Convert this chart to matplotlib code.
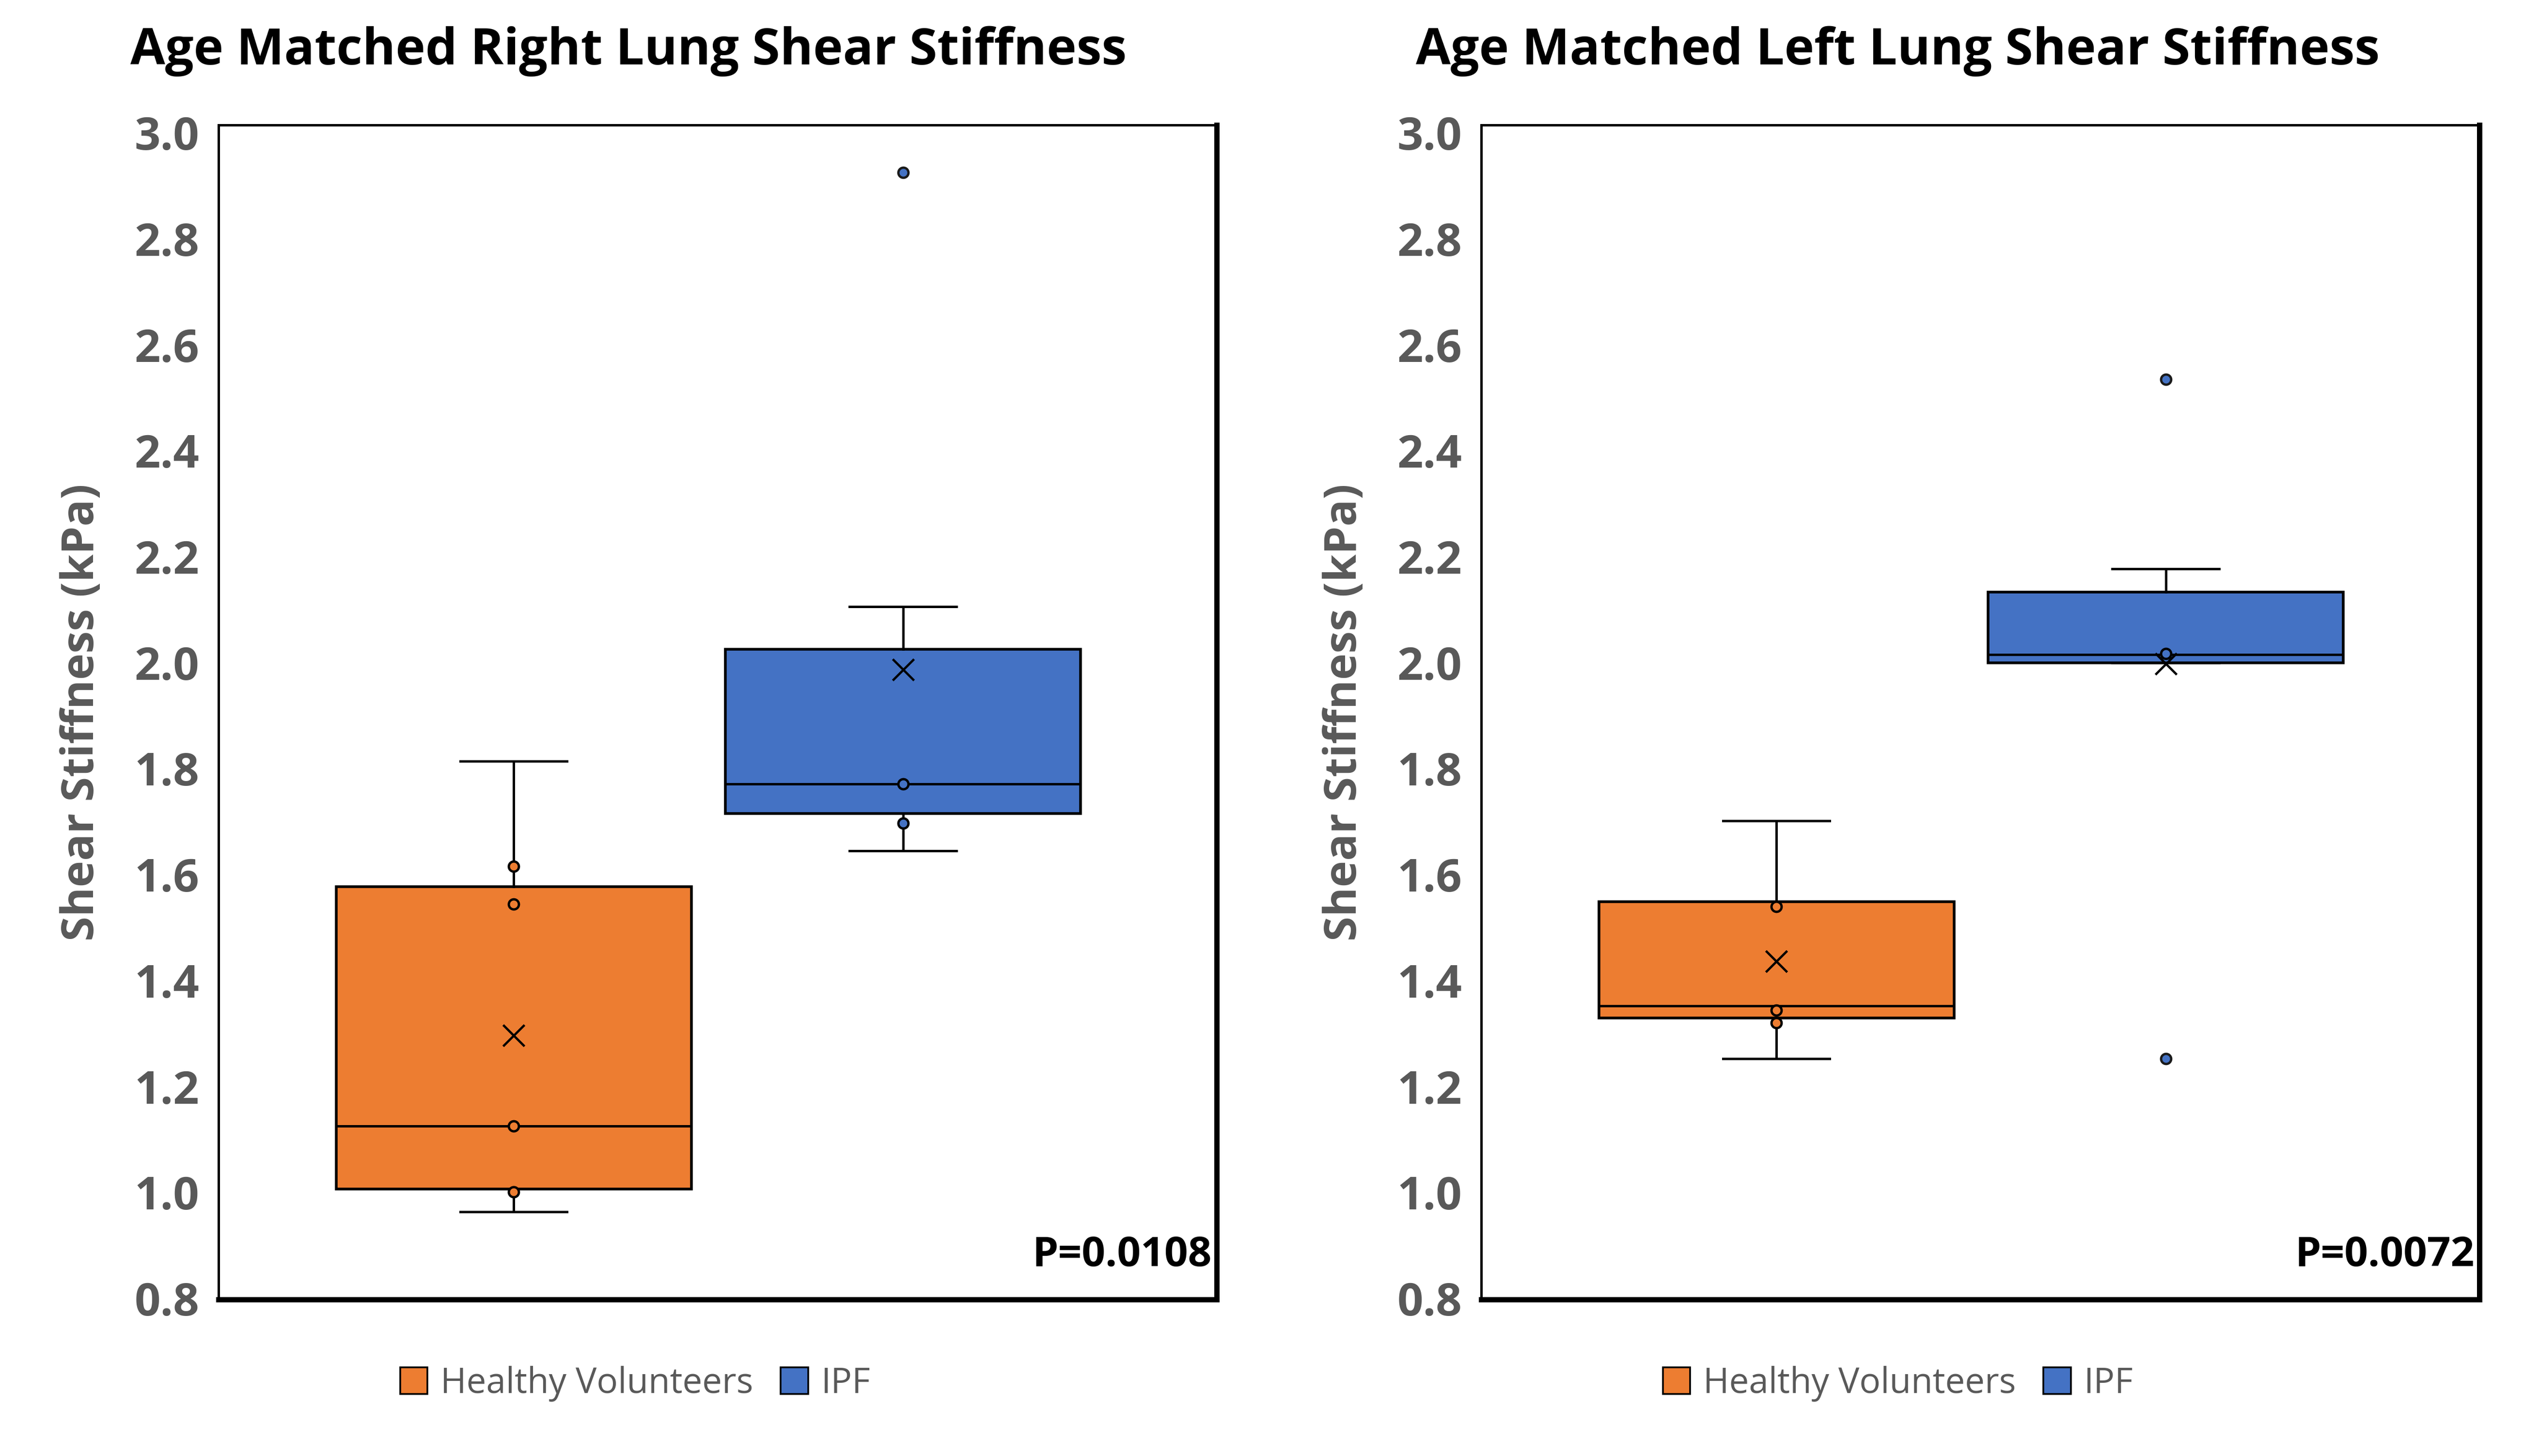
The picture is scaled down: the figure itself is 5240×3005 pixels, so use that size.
import matplotlib
matplotlib.use("Agg")
import matplotlib.pyplot as plt
from matplotlib.patches import Patch

plt.rcParams['font.family'] = ['Open Sans', 'DejaVu Sans']

# ---------------- data ----------------
groups = ["Healthy Volunteers", "IPF"]
colors = ["#ED7D31", "#4472C4"]
yticks = [0.8, 1.0, 1.2, 1.4, 1.6, 1.8, 2.0, 2.2, 2.4, 2.6, 2.8, 3.0]

panel_titles = ["Age Matched Right Lung Shear Stiffness",
                "Age Matched Left Lung Shear Stiffness"]
p_values = ["P=0.0108", "P=0.0072"]
ylabel = "Shear Stiffness (kPa)"

# Right lung: [Healthy Volunteers, IPF]
right_whisker_low = [0.963, 1.644]
right_q1 = [1.006, 1.715]
right_median = [1.125, 1.771]
right_q3 = [1.577, 2.025]
right_whisker_high = [1.814, 2.105]
right_mean = [1.296, 1.986]
right_points = [[1.001, 1.125, 1.544, 1.615], [1.697, 1.771]]
right_outliers = [[], [2.925]]

# Left lung: [Healthy Volunteers, IPF]
left_whisker_low = [1.252, 1.999]
left_q1 = [1.329, 1.999]
left_median = [1.352, 2.015]
left_q3 = [1.548, 2.133]
left_whisker_high = [1.701, 2.177]
left_mean = [1.436, 1.997]
left_points = [[1.320, 1.344, 1.539], [2.017]]
left_outliers = [[], [2.534, 1.252]]

panels = [
    (right_whisker_low, right_q1, right_median, right_q3, right_whisker_high,
     right_mean, right_points, right_outliers),
    (left_whisker_low, left_q1, left_median, left_q3, left_whisker_high,
     left_mean, left_points, left_outliers),
]

# ---------------- layout ----------------
W, H = 5240, 3005
fig = plt.figure(figsize=(W / 100, H / 100), dpi=100)
fig.patch.set_facecolor('white')

offset_px = 2606
ax_left_px, ax_right_px = 450.5, 2510.5
ax_top_px, ax_bot_px = 257.5, 2682.0
grey = '#595959'

positions = [0.296, 0.686]
box_width = 0.356
cap_width = 0.107

for i, (wlo, q1, med, q3, whi, mean, pts, outs) in enumerate(panels):
    off = offset_px * i
    ax = fig.add_axes([(ax_left_px + off) / W, 1 - ax_bot_px / H,
                       (ax_right_px - ax_left_px) / W,
                       (ax_bot_px - ax_top_px) / H])
    stats = []
    for g in range(len(groups)):
        stats.append(dict(whislo=wlo[g], q1=q1[g], med=med[g], q3=q3[g],
                          whishi=whi[g], mean=mean[g], fliers=[]))
    bp = ax.bxp(stats, positions=positions, widths=box_width,
                capwidths=[cap_width] * len(groups), patch_artist=True,
                showmeans=False, showfliers=False, manage_ticks=False,
                boxprops=dict(edgecolor='black', linewidth=4.0),
                medianprops=dict(color='black', linewidth=3.6),
                whiskerprops=dict(color='black', linewidth=3.6),
                capprops=dict(color='black', linewidth=3.6))
    for patch, c in zip(bp['boxes'], colors):
        patch.set_facecolor(c)
    for g in range(len(groups)):
        p = positions[g]
        if pts[g]:
            ax.plot([p] * len(pts[g]), pts[g], 'o', ms=15, mfc=colors[g],
                    mec='black', mew=3.5, zorder=6)
        if outs[g]:
            ax.plot([p] * len(outs[g]), outs[g], 'o', ms=15, mfc=colors[g],
                    mec='#1a1a1a', mew=3.5, zorder=6)
        ax.plot([p], [mean[g]], 'x', ms=32, mec='black', mew=3.4, zorder=7)

    ax.set_xlim(0, 1)
    ax.set_ylim(0.7977, 3.0147)
    ax.set_xticks([])
    ax.set_yticks(yticks)
    ax.set_yticklabels([f"{t:.1f}" for t in yticks])
    ax.tick_params(axis='y', length=0, pad=28, labelsize=67.5, labelcolor=grey)
    for lab in ax.get_yticklabels():
        lab.set_fontweight('bold')
    ax.spines['left'].set_linewidth(3.6)
    ax.spines['top'].set_linewidth(3.6)
    ax.spines['right'].set_linewidth(7.9)
    ax.spines['bottom'].set_linewidth(7.9)
    for s in ax.spines.values():
        s.set_color('black')

    ax.text(0.9952, 0.0285, p_values[i], transform=ax.transAxes,
            ha='right', va='baseline', fontsize=61.5, fontweight='bold',
            color='black')

    fig.text((1297 + off + (14 if i else 0)) / W, 1 - 133 / H, panel_titles[i],
             ha='center', va='baseline', fontsize=75, fontweight='bold',
             color='black')
    fig.text((193 + off) / W, 1 - 1470 / H, ylabel, rotation=90,
             rotation_mode='anchor', ha='center', va='baseline',
             fontsize=66.5, fontweight='bold', color=grey)

    handles = [Patch(facecolor=c, edgecolor='black', linewidth=2.6)
               for c in colors]
    fig.legend(handles, groups, loc='center',
               bbox_to_anchor=((1311 + off) / W, 1 - 2856 / H),
               ncol=2, frameon=False, fontsize=52.4,
               handlelength=0.78, handleheight=0.78, handletextpad=0.37,
               columnspacing=0.77, labelcolor=grey, borderpad=0)

fig.savefig('out.png', dpi=100)
